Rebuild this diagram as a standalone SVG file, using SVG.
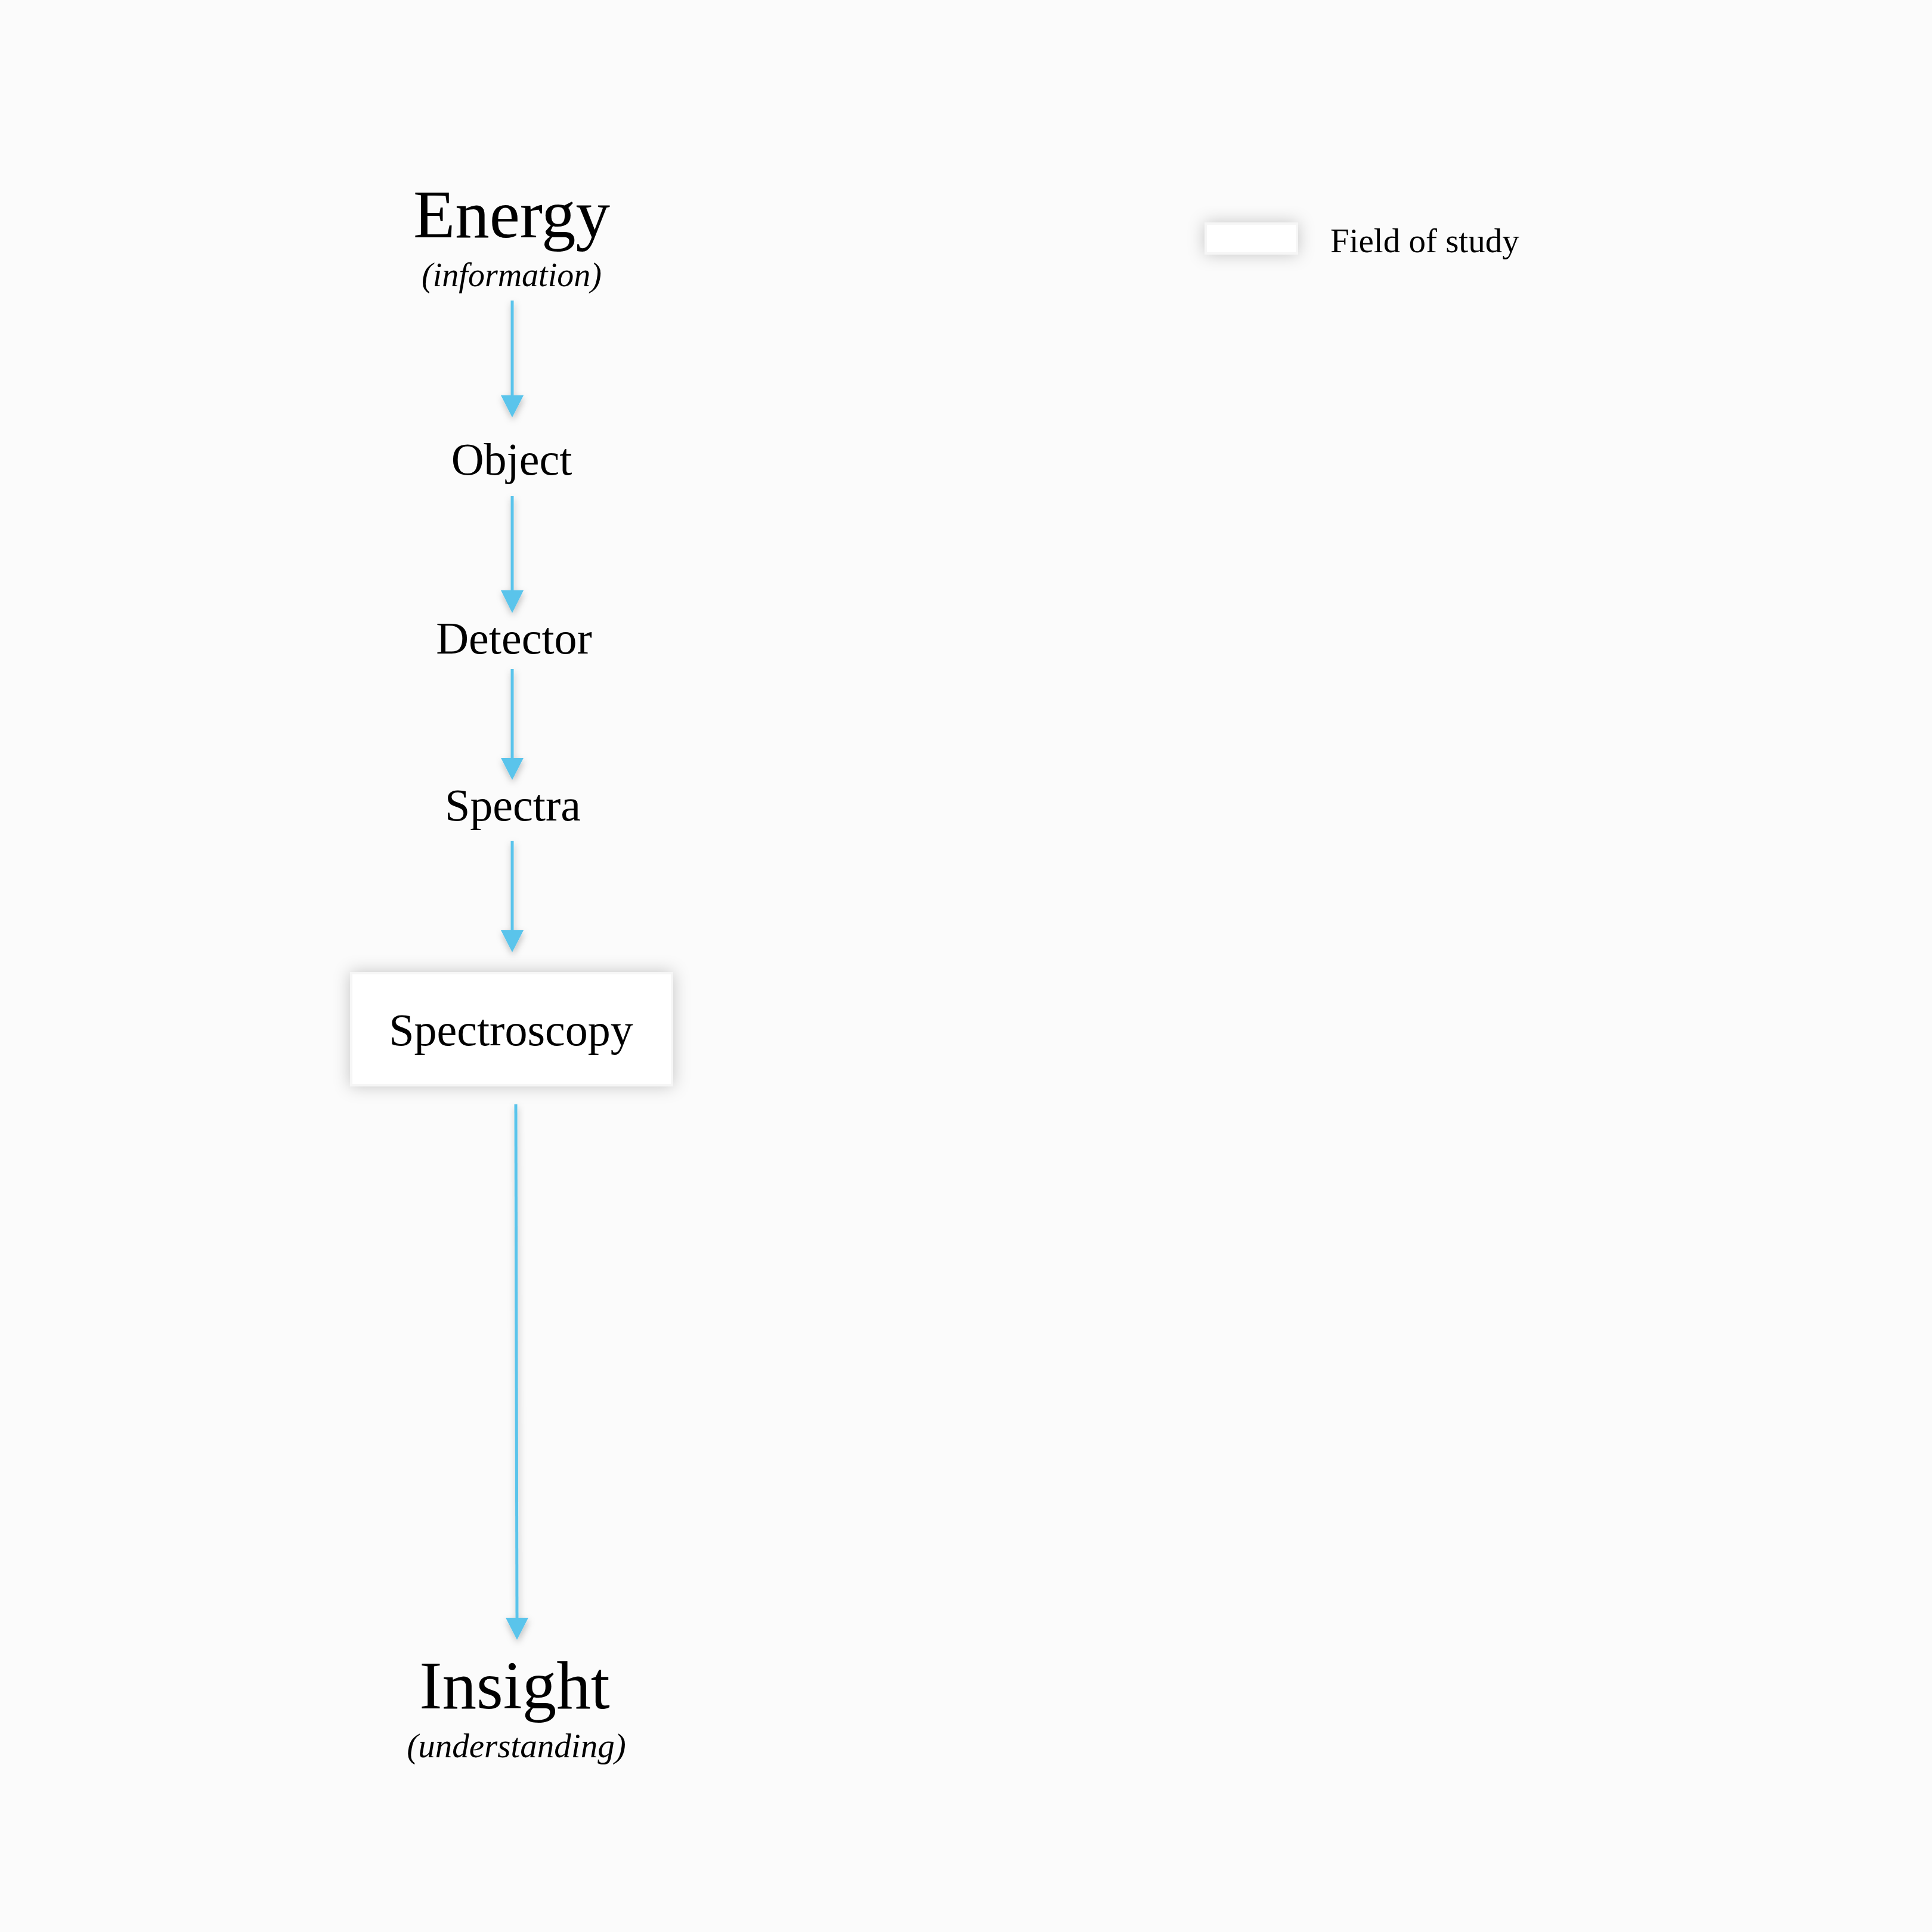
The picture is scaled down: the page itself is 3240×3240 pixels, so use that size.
<svg xmlns="http://www.w3.org/2000/svg" width="3240" height="3240" viewBox="0 0 3240 3240">
<style>
.t{font-family:"Liberation Serif","Times New Roman",serif;fill:#000;text-anchor:middle}
.big{font-size:115px}
.mid{font-size:76px}
.sub{font-size:56px;font-style:italic}
.leg{font-size:57px;text-anchor:start}
.conn{stroke:#5AC4EB;stroke-width:5;fill:none}
.head{fill:#5AC4EB}
.box{fill:#fff;stroke:#f6f6f6;stroke-width:4}
</style>
<defs>
<filter id="sh" x="-30%" y="-60%" width="160%" height="220%">
<feDropShadow dx="0" dy="0" stdDeviation="14" flood-color="#000" flood-opacity="0.22"/>
</filter>
<filter id="ash" x="-100%" y="-10%" width="300%" height="120%">
<feDropShadow dx="1" dy="5" stdDeviation="6" flood-color="#000" flood-opacity="0.25"/>
</filter>
</defs>
<rect width="3240" height="3240" fill="#FBFBFB"/>
<g id="connectors" filter="url(#ash)">
<line class="conn" x1="859" y1="504" x2="859" y2="668"/>
<path class="head" d="M840,663 L878,663 L859,700 z"/>
<line class="conn" x1="859" y1="832" x2="859" y2="995"/>
<path class="head" d="M840,990 L878,990 L859,1028 z"/>
<line class="conn" x1="859" y1="1122" x2="859" y2="1275"/>
<path class="head" d="M840,1271 L878,1271 L859,1308 z"/>
<line class="conn" x1="859" y1="1410" x2="859" y2="1564"/>
<path class="head" d="M840,1560 L878,1560 L859,1597 z"/>
<line class="conn" x1="865" y1="1852" x2="867" y2="2718"/>
<path class="head" d="M848,2713 L886,2713 L867,2750 z"/>
</g>
<g id="energy">
<text class="t big" x="858" y="398">Energy</text>
<text class="t sub" x="858" y="480">(information)</text>
</g>
<g id="object"><text class="t mid" x="858" y="796">Object</text></g>
<g id="detector"><text class="t mid" x="862" y="1096">Detector</text></g>
<g id="spectra"><text class="t mid" x="860" y="1376">Spectra</text></g>
<g id="spectroscopy">
<rect class="box" x="589" y="1632" width="538" height="188" filter="url(#sh)"/>
<text class="t mid" x="857" y="1753">Spectroscopy</text>
</g>
<g id="insight">
<text class="t big" x="863" y="2865">Insight</text>
<text class="t sub" x="866" y="2947" style="font-size:57px">(understanding)</text>
</g>
<g id="legend">
<rect class="box" x="2022" y="375" width="153" height="50" filter="url(#sh)"/>
<text class="t leg" x="2231" y="423">Field of study</text>
</g>
</svg>
